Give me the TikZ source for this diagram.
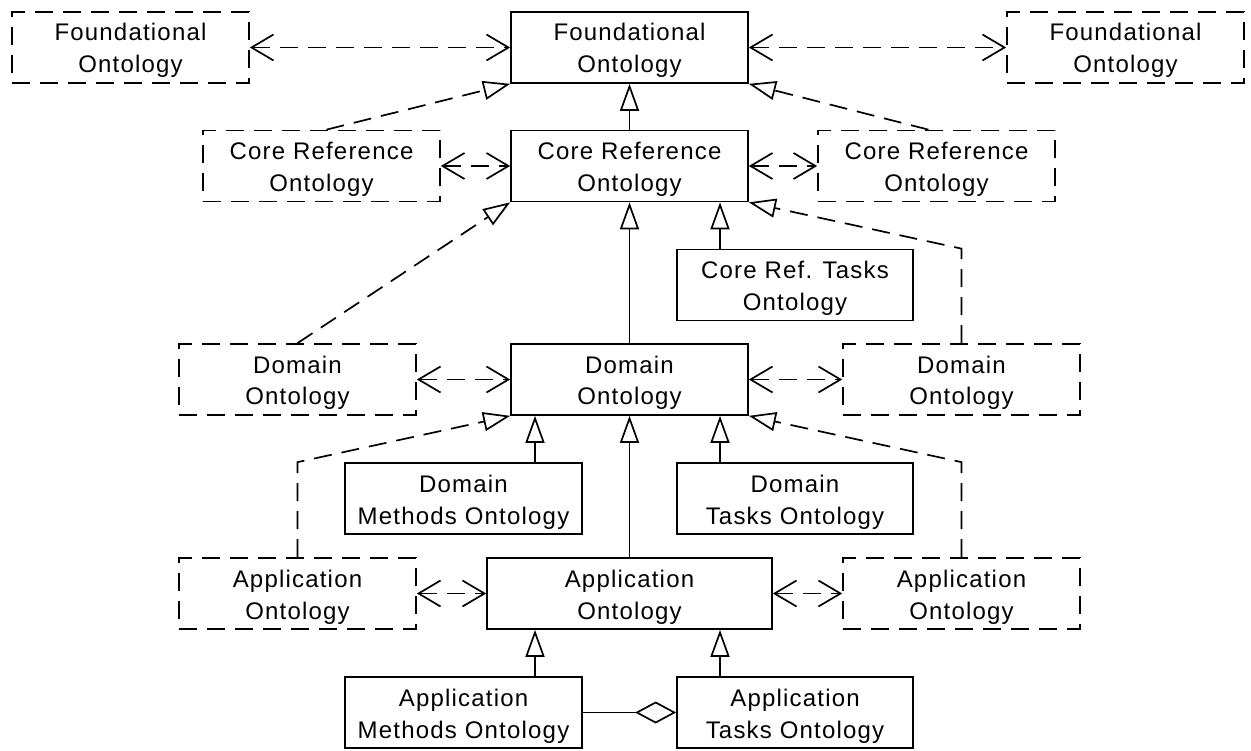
\documentclass[tikz,border=0pt]{standalone}
\usepackage{fontspec}
\setmainfont{Liberation Sans}[LetterSpace=5]
\usetikzlibrary{arrows.meta}
\begin{document}
\begin{tikzpicture}[x=1pt,y=-1pt, line width=1.7pt,
  box/.style={draw, minimum width=237pt, minimum height=71pt, inner sep=0pt, align=center,
              text height=56pt, text depth=5pt, font=\fontsize{24}{32}\selectfont},
  dbox/.style={box, dash pattern=on 18pt off 10pt},
  dep/.style={dash pattern=on 18pt off 10pt, {Straight Barb[length=22pt,width=26pt]}-{Straight Barb[length=22pt,width=26pt]}},
  gen/.style={-{Triangle[open,length=27pt,width=19pt]}},
  dgen/.style={gen, dash pattern=on 18pt off 10pt},
  agg/.style={-{Diamond[open,length=41pt,width=22pt]}}
]
\useasboundingbox (0,0) rectangle (1251,751);
% row 1
\node[dbox] (FOL) at (130.5,47.5) {Foundational\\Ontology};
\node[box]  (FOC) at (629.5,47.5) {Foundational\\Ontology};
\node[dbox] (FOR) at (1125.5,47.5) {Foundational\\Ontology};
% row 2
\node[dbox] (CRL) at (321.5,166) {Core Reference\\Ontology};
\node[box]  (CRC) at (629.5,166) {Core Reference\\Ontology};
\node[dbox] (CRR) at (936.5,166) {Core Reference\\Ontology};
\node[box, minimum width=236pt] (CRT) at (795,285) {Core Ref. Tasks\\Ontology};
% row 3
\node[dbox] (DL) at (297.5,379.5) {Domain\\Ontology};
\node[box]  (DC) at (629.5,379.5) {Domain\\Ontology};
\node[dbox] (DR) at (961.5,379.5) {Domain\\Ontology};
\node[box] (DM) at (463.5,498.5) {Domain\\Methods Ontology};
\node[box, minimum width=236pt] (DT) at (795,498.5) {Domain\\Tasks Ontology};
% row 4
\node[dbox] (AL) at (297.5,593.5) {Application\\Ontology};
\node[box, minimum width=285pt] (AC) at (629.5,593.5) {Application\\Ontology};
\node[dbox] (AR) at (961.5,593.5) {Application\\Ontology};
\node[box] (AM) at (463.5,712.5) {Application\\Methods Ontology};
\node[box, minimum width=236pt] (AT) at (795,712.5) {Application\\Tasks Ontology};
% dependencies
\draw[dep] (FOL.east) -- (FOC.west);
\draw[dep] (FOC.east) -- (FOR.west);
\draw[dep] (CRL.east) -- (CRC.west);
\draw[dep] (CRC.east) -- (CRR.west);
\draw[dep] (DL.east) -- (DC.west);
\draw[dep] (DC.east) -- (DR.west);
\draw[dep] (AL.east) -- (AC.west);
\draw[dep] (AC.east) -- (AR.west);
% solid generalisations
\draw[gen] (CRC.north) -- (FOC.south);
\draw[gen] (DC.north) -- (CRC.south);
\draw[gen] (AC.north) -- (DC.south);
\draw[gen] ([xshift=-75pt]CRT.north) -- ([xshift=-75pt]CRT.north |- CRC.south);
\draw[gen] ([xshift=71.5pt]DM.north) -- ([xshift=71.5pt]DM.north |- DC.south);
\draw[gen] ([xshift=-75pt]DT.north) -- ([xshift=-75pt]DT.north |- DC.south);
\draw[gen] ([xshift=71.5pt]AM.north) -- ([xshift=71.5pt]AM.north |- AC.south);
\draw[gen] ([xshift=-75pt]AT.north) -- ([xshift=-75pt]AT.north |- AC.south);
% dashed generalisations
\draw[dgen] ([xshift=5pt]CRL.north) -- (FOC.south west);
\draw[dgen] ([xshift=-8pt]CRR.north) -- (FOC.south east);
\draw[dgen] (DL.north) -- (CRC.south west);
\draw[dgen] (DR.north) -- (DR.north |- CRT.north) -- (CRC.south east);
\draw[dgen] (AL.north) -- (AL.north |- DM.north) -- (DC.south west);
\draw[dgen] (AR.north) -- (AR.north |- DT.north) -- (DC.south east);
% aggregation
\draw[agg] (AM.east) -- (AT.west);
\end{tikzpicture}
\end{document}
